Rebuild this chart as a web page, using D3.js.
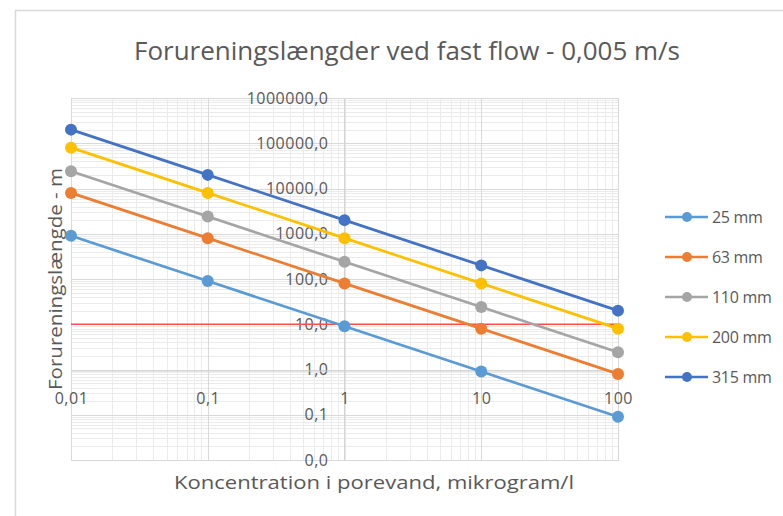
<!DOCTYPE html>
<html>
<head>
<meta charset="utf-8">
<script src="https://cdn.jsdelivr.net/npm/d3@7"></script>
<style>
  html, body { margin: 0; padding: 0; background: #fff; }
  svg { display: block; font-family: "Open Sans", "Noto Sans", sans-serif; }
</style>
</head>
<body>
<svg id="chart" width="783" height="516"></svg>
<script>
// Concentration in pore water (µg/l) on the x axis
const concentrations = [0.01, 0.1, 1, 10, 100];

// Pipe dimensions and their pollution lengths (m)
const seriesNames = ["25 mm", "63 mm", "110 mm", "200 mm", "315 mm"];
const values25  = [900, 90, 9, 0.9, 0.09];
const values63  = [8000, 800, 80, 8, 0.8];
const values110 = [24000, 2400, 240, 24, 2.4];
const values200 = [80000, 8000, 800, 80, 8];
const values315 = [200000, 20000, 2000, 200, 20];
const seriesColors = ["#5B9BD5", "#ED7D31", "#A5A5A5", "#FFC000", "#4472C4"];

// Reference level drawn as a horizontal line
const thresholdLength = 10;

// Axis ticks
const xTicks = [0.01, 0.1, 1, 10, 100];
const yTicks = [0.01, 0.1, 1, 10, 100, 1000, 10000, 100000, 1000000];

const titleText = "Forureningslængder ved fast flow - 0,005 m/s";
const xTitle = "Koncentration i porevand, mikrogram/l";
const yTitle = "Forureningslængde - m";

const series = [values25, values63, values110, values200, values315].map((vals, i) => ({
  name: seriesNames[i],
  color: seriesColors[i],
  points: vals.map((v, j) => ({ x: concentrations[j], y: v }))
}));

const svg = d3.select("#chart");
const plot = { left: 71, right: 618, top: 98, bottom: 460 };

const x = d3.scaleLog().domain([0.01, 100]).range([plot.left, plot.right]);
const y = d3.scaleLog().domain([0.01, 1000000]).range([plot.bottom, plot.top]);

const textColor = "#595959";

// Chart frame (top and left edges)
svg.append("line").attr("x1", 15).attr("x2", 783).attr("y1", 10.5).attr("y2", 10.5)
  .attr("stroke", "#d9d9d9").attr("stroke-width", 1.5);
svg.append("line").attr("x1", 15.5).attr("x2", 15.5).attr("y1", 10).attr("y2", 516)
  .attr("stroke", "#d9d9d9").attr("stroke-width", 1.5);

// Title
svg.append("text")
  .attr("x", 407).attr("y", 60)
  .attr("text-anchor", "middle")
  .attr("font-size", 25)
  .attr("fill", textColor)
  .attr("textLength", 546).attr("lengthAdjust", "spacingAndGlyphs")
  .text(titleText);

// Minor and major gridlines
const xMinor = [];
const yMinor = [];
for (let e = -2; e < 2; e++) for (let k = 2; k <= 9; k++) xMinor.push(k * Math.pow(10, e));
for (let e = -2; e < 6; e++) for (let k = 2; k <= 9; k++) yMinor.push(k * Math.pow(10, e));

const grid = svg.append("g");
grid.selectAll("line.xminor").data(xMinor).join("line")
  .attr("x1", d => Math.round(x(d)) + 0.5).attr("x2", d => Math.round(x(d)) + 0.5)
  .attr("y1", plot.top).attr("y2", plot.bottom)
  .attr("stroke", "#ebebeb").attr("stroke-width", 1);
grid.selectAll("line.yminor").data(yMinor).join("line")
  .attr("y1", d => Math.round(y(d)) + 0.5).attr("y2", d => Math.round(y(d)) + 0.5)
  .attr("x1", plot.left).attr("x2", plot.right)
  .attr("stroke", "#ebebeb").attr("stroke-width", 1);
grid.selectAll("line.xmajor").data(xTicks).join("line")
  .attr("x1", d => Math.round(x(d)) + 0.5).attr("x2", d => Math.round(x(d)) + 0.5)
  .attr("y1", plot.top).attr("y2", plot.bottom)
  .attr("stroke", "#d9d9d9").attr("stroke-width", 1);
grid.selectAll("line.ymajor").data(yTicks).join("line")
  .attr("y1", d => Math.round(y(d)) + 0.5).attr("y2", d => Math.round(y(d)) + 0.5)
  .attr("x1", plot.left).attr("x2", plot.right)
  .attr("stroke", "#d9d9d9").attr("stroke-width", 1);
svg.append("rect")
  .attr("x", plot.left + 0.5).attr("y", plot.top + 0.5)
  .attr("width", plot.right - plot.left).attr("height", plot.bottom - plot.top)
  .attr("fill", "none").attr("stroke", "#d9d9d9");

// Axes cross at x = 1 and y = 1
const locale = d3.formatLocale({ decimal: ",", thousands: "", grouping: [3], currency: ["", ""] });
const yFmt = locale.format(".1f");
const xFmt = d => String(d).replace(".", ",");

const yAxis = d3.axisLeft(y).tickValues(yTicks).tickFormat(yFmt).tickSize(0).tickPadding(16);
const yAxisG = svg.append("g")
  .attr("transform", `translate(${Math.round(x(1)) + 0.5},0)`)
  .call(yAxis);
yAxisG.select(".domain").attr("stroke", "#cfcfcf");
yAxisG.selectAll("text").attr("fill", textColor).attr("font-size", 16)
  .attr("font-family", "'Open Sans', sans-serif").attr("letter-spacing", 0.5);

const xAxis = d3.axisBottom(x).tickValues(xTicks).tickFormat(xFmt).tickSize(0).tickPadding(22);
const xAxisG = svg.append("g")
  .attr("transform", `translate(0,${Math.round(y(1)) + 0.5})`)
  .call(xAxis);
xAxisG.select(".domain").attr("stroke", "#cfcfcf");
xAxisG.selectAll("text").attr("fill", textColor).attr("font-size", 16)
  .attr("font-family", "'Open Sans', sans-serif").attr("letter-spacing", 0.5);

// Axis titles
svg.append("text")
  .attr("x", 374).attr("y", 489)
  .attr("text-anchor", "middle")
  .attr("font-size", 17.5)
  .attr("fill", textColor)
  .attr("textLength", 400).attr("lengthAdjust", "spacingAndGlyphs")
  .text(xTitle);
svg.append("text")
  .attr("transform", "translate(62,279) rotate(-90)")
  .attr("text-anchor", "middle")
  .attr("font-size", 19)
  .attr("fill", textColor)
  .attr("textLength", 222).attr("lengthAdjust", "spacingAndGlyphs")
  .text(yTitle);

// Threshold line
svg.append("line")
  .attr("x1", plot.left).attr("x2", plot.right)
  .attr("y1", y(thresholdLength)).attr("y2", y(thresholdLength))
  .attr("stroke", "#ff4d4d").attr("stroke-width", 1.3);

// Series lines and markers
const line = d3.line().x(d => x(d.x)).y(d => y(d.y));
const sg = svg.append("g").selectAll("g").data(series).join("g");
sg.append("path")
  .attr("d", d => line(d.points))
  .attr("fill", "none")
  .attr("stroke", d => d.color)
  .attr("stroke-width", 2.7);
sg.selectAll("circle").data(d => d.points.map(p => ({ ...p, color: d.color }))).join("circle")
  .attr("cx", d => x(d.x)).attr("cy", d => y(d.y)).attr("r", 6)
  .attr("fill", d => d.color);

// Legend
const legend = svg.append("g").selectAll("g").data(series).join("g")
  .attr("transform", (d, i) => `translate(665,${217 + i * 40})`);
legend.append("line").attr("x1", 0).attr("x2", 43).attr("y1", 0).attr("y2", 0)
  .attr("stroke", d => d.color).attr("stroke-width", 2.7);
legend.append("circle").attr("cx", 22).attr("cy", 0).attr("r", 5).attr("fill", d => d.color);
legend.append("text").attr("x", 47).attr("y", 6)
  .attr("font-size", 16).attr("fill", textColor).attr("letter-spacing", -0.3)
  .text(d => d.name);
</script>
</body>
</html>
